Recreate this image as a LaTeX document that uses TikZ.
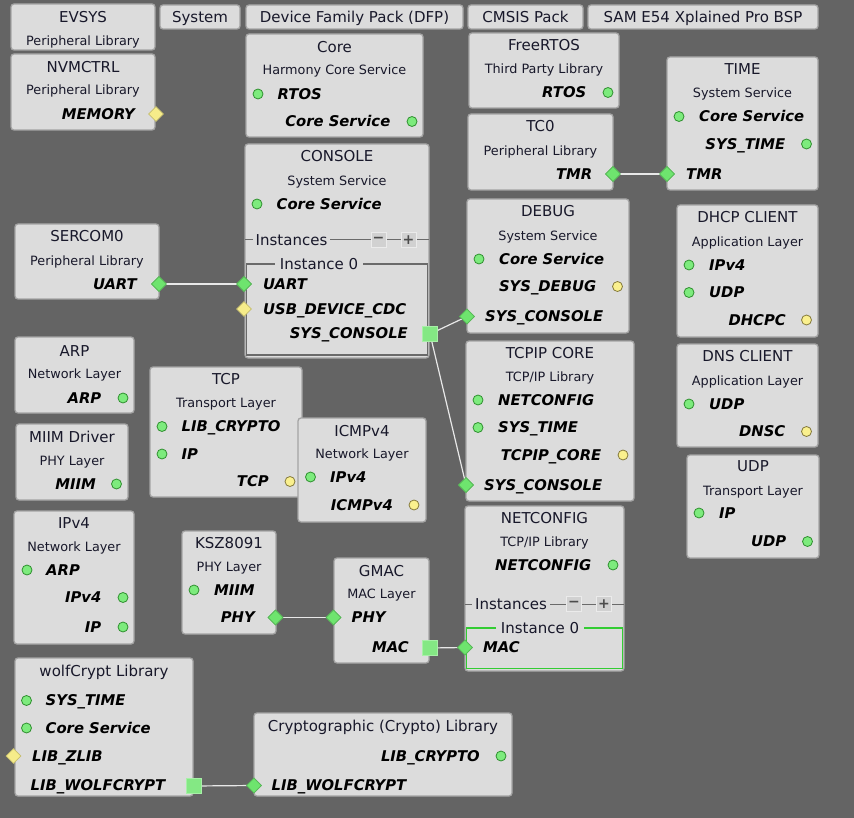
\documentclass[tikz,border=0pt]{standalone}
\usepackage{fontspec}
\setmainfont{DejaVu Sans}
\usetikzlibrary{shapes.geometric}
\definecolor{bg}{HTML}{646464}
\definecolor{boxfill}{HTML}{DCDCDC}
\definecolor{boxline}{HTML}{A4A4A4}
\definecolor{ink}{HTML}{18182A}
\definecolor{gfill}{HTML}{7DEB7D}
\definecolor{gline}{HTML}{2F8F2F}
\definecolor{yfill}{HTML}{FAF08E}
\definecolor{yline}{HTML}{857A3C}
\definecolor{dfill}{HTML}{6EE46E}
\definecolor{ydfill}{HTML}{F6EC8A}
\definecolor{wire}{HTML}{E8E8E8}
\definecolor{instline}{HTML}{6A6A6A}
\definecolor{instgreen}{HTML}{33CC33}
\newcommand\mybox[5]{\node[box, minimum width={(#4-#2)*1pt}, minimum height={(#5-#3)*1pt}] (#1) at ({(#2+#4)/2},{(#3+#5)/2}) {};}
\begin{document}
\begin{tikzpicture}[x=1pt,y=-1pt,
  box/.style={draw=boxline, fill=boxfill, rounded corners=3pt, line width=1.3pt, inner sep=0pt, outer sep=0pt},
  tt/.style={font=\fontsize{15}{15}\selectfont, text=ink, inner sep=0pt, text height=11pt, text depth=0pt},
  sb/.style={font=\fontsize{12.8}{13}\selectfont, text=ink, inner sep=0pt, text height=9.3pt, text depth=0pt},
  pl/.style={font=\fontsize{14.8}{15}\selectfont\bfseries\itshape, text=black, inner sep=0pt, text height=10.8pt, text depth=0pt},
  gdot/.style={circle, draw=gline, fill=gfill, minimum size=10pt, inner sep=0pt, line width=0.8pt},
  ydot/.style={circle, draw=yline, fill=yfill, minimum size=10pt, inner sep=0pt, line width=0.8pt},
  gdia/.style={diamond, draw=dfill!80!black, fill=dfill, minimum width=15pt, minimum height=15pt, inner sep=0pt, line width=0.6pt},
  ydia/.style={diamond, draw=ydfill!80!black, fill=ydfill, minimum width=15pt, minimum height=15pt, inner sep=0pt, line width=0.6pt},
  gsq/.style={rectangle, draw=dfill!60!white, fill=dfill!85!white, minimum size=15pt, inner sep=0pt, line width=0.8pt},
  pm/.style={rectangle, draw=white!92!black, fill=boxfill!95!black, minimum size=15pt, inner sep=0pt, line width=1pt, font=\fontsize{14}{14}\selectfont\bfseries, text=black!70},
  inst/.style={font=\fontsize{15}{15}\selectfont, text=ink, fill=boxfill, inner xsep=3pt, inner ysep=1pt, text height=11pt, text depth=0pt},
  wireln/.style={draw=wire, line width=1.2pt}
]
\useasboundingbox[fill=bg] (0,0) rectangle (854,818);

% ---------- top buttons ----------
\mybox{evsys}{11}{4}{155}{50}
\node[tt] (evsys-t) at (83,17) {EVSYS};
\node[sb] (evsys-s) at (83,41) {Peripheral Library};
\mybox{system}{160}{5}{240}{29}
\node[tt] (system-t) at (200,17) {System};
\mybox{dfp}{246}{5}{463}{29}
\node[tt] (dfp-t) at (354.5,17) {Device Family Pack (DFP)};
\mybox{cmsis}{468}{5}{583}{29}
\node[tt] (cmsis-t) at (525.5,17) {CMSIS Pack};
\mybox{bsp}{588}{5}{818}{29}
\node[tt] (bsp-t) at (703,17) {SAM E54 Xplained Pro BSP};

% ---------- NVMCTRL ----------
\mybox{nvm}{11}{54}{155}{130}
\node[tt] (nvm-t) at (83,67) {NVMCTRL};
\node[sb] (nvm-s) at (83,90) {Peripheral Library};
\node[pl, anchor=east] (nvm-p1) at (135,114) {MEMORY};
\node[ydia] (nvm-d1) at (156,114) {};

% ---------- Core ----------
\mybox{core}{246}{34}{423}{137}
\node[tt] (core-t) at (334.5,47) {Core};
\node[sb] (core-s) at (334.5,70) {Harmony Core Service};
\node[gdot] (core-o1) at (258,94) {};
\node[pl, anchor=west] (core-p1) at (277.5,94) {RTOS};
\node[pl, anchor=east] (core-p2) at (390.5,121.5) {Core Service};
\node[gdot] (core-o2) at (412,121.5) {};

% ---------- FreeRTOS ----------
\mybox{frtos}{469}{33}{619}{108}
\node[tt] (frtos-t) at (544,45.5) {FreeRTOS};
\node[sb] (frtos-s) at (544,69) {Third Party Library};
\node[pl, anchor=east] (frtos-p1) at (586.5,92.5) {RTOS};
\node[gdot] (frtos-o1) at (608,92.5) {};

% ---------- TC0 ----------
\mybox{tc0}{468}{114}{613}{190}
\node[tt] (tc0-t) at (540.5,126.5) {TC0};
\node[sb] (tc0-s) at (540.5,150.5) {Peripheral Library};
\node[pl, anchor=east] (tc0-p1) at (592.5,174) {TMR};

% ---------- TIME ----------
\mybox{time}{667}{57}{818}{190}
\node[tt] (time-t) at (742.5,69) {TIME};
\node[sb] (time-s) at (742.5,92.5) {System Service};
\node[gdot] (time-o1) at (679,116.5) {};
\node[pl, anchor=west] (time-p1) at (699,116.5) {Core Service};
\node[pl, anchor=east] (time-p2) at (785.5,144) {SYS\_TIME};
\node[gdot] (time-o2) at (806.5,144) {};
\node[pl, anchor=west] (time-p3) at (686,174) {TMR};

% ---------- CONSOLE ----------
\mybox{console}{245}{144}{429}{358}
\node[tt] (console-t) at (337,156.5) {CONSOLE};
\node[sb] (console-s) at (337,180.5) {System Service};
\node[gdot] (console-o1) at (257,204) {};
\node[pl, anchor=west] (console-p1) at (276.5,204) {Core Service};
\coordinate (console-il) at (245,240);
\coordinate (console-ir) at (429,240);
\draw[instline, line width=1pt] (console-il) -- (console-ir);
\node[inst, anchor=west] (console-inst) at (252.5,240) {Instances};
\node[pm] (console-minus) at (378.5,240) {−};
\node[pm] (console-plus) at (408.5,240) {+};
\node[draw=instline, line width=1.2pt, minimum width=181pt, minimum height=91pt, inner sep=0pt] (console-i0) at (337,309.5) {};
\node[inst, inner xsep=5pt, inner ysep=0pt] (console-i0l) at (319,264) {Instance 0};
\node[pl, anchor=west] (console-p2) at (263,284) {UART};
\node[pl, anchor=west] (console-p3) at (263,309) {USB\_DEVICE\_CDC};
\node[pl, anchor=east] (console-p4) at (408,333.5) {SYS\_CONSOLE};

% ---------- SERCOM0 ----------
\mybox{sercom}{15}{224}{159}{299}
\node[tt] (sercom-t) at (87,236.5) {SERCOM0};
\node[sb] (sercom-s) at (87,260.5) {Peripheral Library};
\node[pl, anchor=east] (sercom-p1) at (137,284) {UART};

% ---------- DEBUG ----------
\mybox{debug}{467}{199}{629}{333}
\node[tt] (debug-t) at (548,211.5) {DEBUG};
\node[sb] (debug-s) at (548,235.5) {System Service};
\node[gdot] (debug-o1) at (479,259) {};
\node[pl, anchor=west] (debug-p1) at (499,259) {Core Service};
\node[pl, anchor=east] (debug-p2) at (596.5,286.5) {SYS\_DEBUG};
\node[ydot] (debug-o2) at (617.5,286.5) {};
\node[pl, anchor=west] (debug-p3) at (485,316.5) {SYS\_CONSOLE};

% ---------- DHCP CLIENT ----------
\mybox{dhcp}{677}{205}{818}{337}
\node[tt] (dhcp-t) at (747.5,217.5) {DHCP CLIENT};
\node[sb] (dhcp-s) at (747.5,241.5) {Application Layer};
\node[gdot] (dhcp-o1) at (689,265) {};
\node[pl, anchor=west] (dhcp-p1) at (709,265) {IPv4};
\node[gdot] (dhcp-o2) at (689,292.5) {};
\node[pl, anchor=west] (dhcp-p2) at (709,292.5) {UDP};
\node[pl, anchor=east] (dhcp-p3) at (786,320) {DHCPC};
\node[ydot] (dhcp-o3) at (806.5,320) {};

% ---------- TCPIP CORE ----------
\mybox{tcpip}{466}{341}{634}{501}
\node[tt] (tcpip-t) at (550,352.5) {TCPIP CORE};
\node[sb] (tcpip-s) at (550,376.5) {TCP/IP Library};
\node[gdot] (tcpip-o1) at (478,400) {};
\node[pl, anchor=west] (tcpip-p1) at (498,400) {NETCONFIG};
\node[gdot] (tcpip-o2) at (478,427.5) {};
\node[pl, anchor=west] (tcpip-p2) at (498,427.5) {SYS\_TIME};
\node[pl, anchor=east] (tcpip-p3) at (601.5,455) {TCPIP\_CORE};
\node[ydot] (tcpip-o3) at (623,455) {};
\node[pl, anchor=west] (tcpip-p4) at (484,485) {SYS\_CONSOLE};

% ---------- DNS CLIENT ----------
\mybox{dns}{677}{344}{818}{447}
\node[tt] (dns-t) at (747.5,356) {DNS CLIENT};
\node[sb] (dns-s) at (747.5,380.5) {Application Layer};
\node[gdot] (dns-o1) at (689,404) {};
\node[pl, anchor=west] (dns-p1) at (709,404) {UDP};
\node[pl, anchor=east] (dns-p2) at (785.5,431.5) {DNSC};
\node[ydot] (dns-o2) at (806.5,431.5) {};

% ---------- ARP ----------
\mybox{arp}{15}{337}{134}{413}
\node[tt] (arp-t) at (74.5,350.5) {ARP};
\node[sb] (arp-s) at (74.5,374) {Network Layer};
\node[pl, anchor=east] (arp-p1) at (101.5,398) {ARP};
\node[gdot] (arp-o1) at (123,398) {};

% ---------- TCP ----------
\mybox{tcp}{150}{367}{302}{497}
\node[tt] (tcp-t) at (226,379) {TCP};
\node[sb] (tcp-s) at (226,402.5) {Transport Layer};
\node[gdot] (tcp-o1) at (162,426.5) {};
\node[pl, anchor=west] (tcp-p1) at (181.5,426.5) {LIB\_CRYPTO};
\node[gdot] (tcp-o2) at (162,454) {};
\node[pl, anchor=west] (tcp-p2) at (181.5,454) {IP};
\node[pl, anchor=east] (tcp-p3) at (269,481.5) {TCP};
\node[ydot] (tcp-o3) at (290,481.5) {};

% ---------- MIIM Driver ----------
\mybox{miim}{16}{424}{128}{500}
\node[tt] (miim-t) at (72,436.5) {MIIM Driver};
\node[sb] (miim-s) at (72,460.5) {PHY Layer};
\node[pl, anchor=east] (miim-p1) at (96,484) {MIIM};
\node[gdot] (miim-o1) at (116.5,484) {};

% ---------- ICMPv4 ----------
\mybox{icmp}{298}{418}{426}{522}
\node[tt] (icmp-t) at (362,431) {ICMPv4};
\node[sb] (icmp-s) at (362,454) {Network Layer};
\node[gdot] (icmp-o1) at (310.5,477) {};
\node[pl, anchor=west] (icmp-p1) at (330,477) {IPv4};
\node[pl, anchor=east] (icmp-p2) at (393,505) {ICMPv4};
\node[ydot] (icmp-o2) at (414,505) {};

% ---------- UDP ----------
\mybox{udp}{687}{455}{819}{558}
\node[tt] (udp-t) at (753,466) {UDP};
\node[sb] (udp-s) at (753,490.5) {Transport Layer};
\node[gdot] (udp-o1) at (699,513) {};
\node[pl, anchor=west] (udp-p1) at (719,513) {IP};
\node[pl, anchor=east] (udp-p2) at (786.5,541.5) {UDP};
\node[gdot] (udp-o2) at (807.5,541.5) {};

% ---------- IPv4 ----------
\mybox{ipv4}{14}{511}{134}{644}
\node[tt] (ipv4-t) at (74,523) {IPv4};
\node[sb] (ipv4-s) at (74,546.5) {Network Layer};
\node[gdot] (ipv4-o1) at (27,570) {};
\node[pl, anchor=west] (ipv4-p1) at (46,570) {ARP};
\node[pl, anchor=east] (ipv4-p2) at (101.5,597.5) {IPv4};
\node[gdot] (ipv4-o2) at (123,597.5) {};
\node[pl, anchor=east] (ipv4-p3) at (101.5,627) {IP};
\node[gdot] (ipv4-o3) at (123,627) {};

% ---------- KSZ8091 ----------
\mybox{ksz}{182}{531}{276}{634}
\node[tt] (ksz-t) at (229,542.5) {KSZ8091};
\node[sb] (ksz-s) at (229,566.5) {PHY Layer};
\node[gdot] (ksz-o1) at (194,590) {};
\node[pl, anchor=west] (ksz-p1) at (214,590) {MIIM};
\node[pl, anchor=east] (ksz-p2) at (255,617.5) {PHY};

% ---------- GMAC ----------
\mybox{gmac}{334}{558}{429}{663}
\node[tt] (gmac-t) at (381.5,570.5) {GMAC};
\node[sb] (gmac-s) at (381.5,594) {MAC Layer};
\node[pl, anchor=west] (gmac-p1) at (351.5,617.5) {PHY};
\node[pl, anchor=east] (gmac-p2) at (409,647.5) {MAC};

% ---------- NETCONFIG ----------
\mybox{net}{465}{506}{624}{671}
\node[tt] (net-t) at (544.5,518) {NETCONFIG};
\node[sb] (net-s) at (544.5,541.5) {TCP/IP Library};
\node[pl, anchor=east] (net-p1) at (591.5,565) {NETCONFIG};
\node[gdot] (net-o1) at (613,565) {};
\coordinate (net-il) at (465,604);
\coordinate (net-ir) at (624,604);
\draw[instline, line width=1pt] (net-il) -- (net-ir);
\node[inst, anchor=west] (net-inst) at (472,604) {Instances};
\node[pm] (net-minus) at (574,604) {−};
\node[pm] (net-plus) at (604,604) {+};
\node[draw=instgreen, line width=1.5pt, minimum width=156pt, minimum height=40.5pt, inner sep=0pt] (net-i0) at (544.7,648) {};
\node[inst, inner xsep=5pt, inner ysep=0pt] (net-i0l) at (540,627.7) {Instance 0};
\node[pl, anchor=west] (net-p2) at (483,647.5) {MAC};

% ---------- wolfCrypt ----------
\mybox{wolf}{15}{658}{193}{796}
\node[tt] (wolf-t) at (104,670.5) {wolfCrypt Library};
\node[gdot] (wolf-o1) at (26.5,700.5) {};
\node[pl, anchor=west] (wolf-p1) at (45.5,700.5) {SYS\_TIME};
\node[gdot] (wolf-o2) at (26.5,728) {};
\node[pl, anchor=west] (wolf-p2) at (45.5,728) {Core Service};
\node[pl, anchor=west] (wolf-p3) at (32,756) {LIB\_ZLIB};
\node[pl, anchor=west] (wolf-p4) at (30.5,785.5) {LIB\_WOLFCRYPT};

% ---------- Crypto ----------
\mybox{crypto}{254}{713}{512}{796}
\node[tt] (crypto-t) at (383,726) {Cryptographic (Crypto) Library};
\node[pl, anchor=east] (crypto-p1) at (480,756) {LIB\_CRYPTO};
\node[gdot] (crypto-o1) at (501,756) {};
\node[pl, anchor=west] (crypto-p2) at (271.5,785.5) {LIB\_WOLFCRYPT};

% ---------- port markers on edges ----------
\node[gdia] (tc0-d1) at (613,174) {};
\node[gdia] (time-d1) at (667,174) {};
\node[gdia] (sercom-d1) at (159,284) {};
\node[gdia] (console-d1) at (244,284) {};
\node[ydia] (console-d2) at (244,309) {};
\node[gdia] (debug-d1) at (467,316.5) {};
\node[gdia] (tcpip-d1) at (466,485) {};
\node[gdia] (ksz-d1) at (275.5,617.5) {};
\node[gdia] (gmac-d1) at (333.5,617.5) {};
\node[gdia] (net-d1) at (465,647.5) {};
\node[ydia] (wolf-d1) at (13.5,756) {};
\node[gdia] (crypto-d1) at (254,785.5) {};

% ---------- connectors ----------
\draw[wireln] (tc0-d1.center) -- (time-d1.center);
\draw[wireln] (sercom-d1.center) -- (console-d1.center);
\coordinate (console-sqc) at (430,334);
\draw[wireln] (console-sqc) -- (debug-d1.center);
\draw[wireln] (console-sqc) -- (tcpip-d1.center);
\draw[wireln] (ksz-d1.center) -- (gmac-d1.center);
\coordinate (gmac-sqc) at (429.5,648);
\draw[wireln] (gmac-sqc) -- (net-d1.center);
\coordinate (wolf-sqc) at (194,786);
\draw[wireln] (wolf-sqc) -- (crypto-d1.center);

% redraw markers on top of the wires
\node[gdia] at (tc0-d1) {};
\node[gdia] at (time-d1) {};
\node[gdia] at (sercom-d1) {};
\node[gdia] at (console-d1) {};
\node[gdia] at (debug-d1) {};
\node[gdia] at (tcpip-d1) {};
\node[gdia] at (ksz-d1) {};
\node[gdia] at (gmac-d1) {};
\node[gdia] at (net-d1) {};
\node[gdia] at (crypto-d1) {};
\node[gsq] (console-sq) at (console-sqc) {};
\node[gsq] (gmac-sq) at (gmac-sqc) {};
\node[gsq] (wolf-sq) at (wolf-sqc) {};
\end{tikzpicture}
\end{document}
